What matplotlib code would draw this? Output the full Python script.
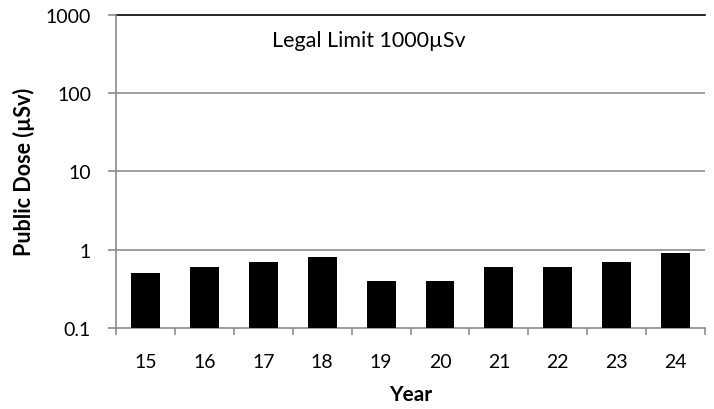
import matplotlib.pyplot as plt
import numpy as np

plt.rcParams['font.family'] = ['Lato', 'DejaVu Sans']

years = ['15', '16', '17', '18', '19', '20', '21', '22', '23', '24']
dose = [0.5, 0.6, 0.7, 0.8, 0.4, 0.4, 0.6, 0.6, 0.7, 0.9]
y_ticks = [0.1, 1, 10, 100, 1000]
y_labels = ['0.1', '1', '10', '100', '1000']

fig = plt.figure(figsize=(7.14, 4.10), dpi=100)
ax = fig.add_axes([0.1625, 0.198, 0.825, 0.763])

x = np.arange(len(years))
base = 0.1
ax.bar(x, np.array(dose) - base, width=0.49, bottom=base, color='black', zorder=3)

ax.set_yscale('log')
ax.set_ylim(0.1, 1000)
ax.set_xlim(-0.5, len(years) - 0.5)
ax.set_yticks(y_ticks)
ax.set_yticklabels(y_labels)
ax.minorticks_off()
ax.set_xticks(x)
ax.set_xticklabels(years)
ax.set_xticks(np.arange(-0.5, len(years)), minor=True)

# gridlines, with the legal limit line drawn in black
for v in [1, 10, 100]:
    ax.axhline(v, color='#8c8c8c', lw=1.2, zorder=1)
ax.axhline(1000, color='black', lw=1.2, zorder=2, clip_on=False)

for s in ['top', 'right']:
    ax.spines[s].set_visible(False)
for s in ['left', 'bottom']:
    ax.spines[s].set_color('#8c8c8c')
    ax.spines[s].set_linewidth(1.2)

ax.tick_params(axis='x', which='major', length=0, labelsize=14, pad=18)
ax.tick_params(axis='x', which='minor', length=5, color='#8c8c8c', width=1.2)
ax.tick_params(axis='y', length=6, color='#8c8c8c', width=1.2, labelsize=14, pad=12)

ax.set_xlabel('Year', fontsize=15, fontweight='bold', labelpad=10)
ax.set_ylabel('Public Dose (µSv)', fontsize=15.5, fontweight='bold', labelpad=8)

ax.text(2.15, 480, 'Legal Limit 1000µSv', fontsize=15.5, va='center', ha='left')

fig.savefig('out.png', dpi=100)
